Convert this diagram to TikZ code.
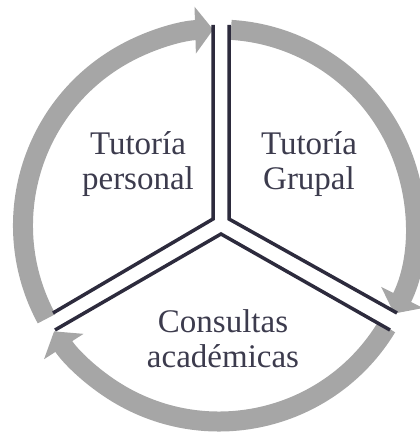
\documentclass[tikz,border=0pt]{standalone}
\usepackage{fontspec}
\setmainfont{Liberation Serif}
\usepackage{tikz}
\usetikzlibrary{arrows.meta}
\definecolor{ringgray}{HTML}{A6A6A6}
\definecolor{wallnavy}{HTML}{2D2B3D}
\definecolor{textnavy}{HTML}{3C3B4D}

\begin{document}
\begin{tikzpicture}[x=1pt, y=1pt,
	ring/.style={color=ringgray, line width=20pt, -{Triangle[width=46pt,length=18pt]}},
	wall/.style={color=wallnavy, line width=3.5pt, line join=miter},
	lbl/.style={text=textnavy, align=center, font=\fontsize{33}{35}\selectfont}]
	\useasboundingbox (0,0) rectangle (420,434);
	\coordinate (C) at (219,208.5);
	% circular arrows
	\draw[ring] ([shift={(208.4:196)}]C) arc (208.4:91.7:196);
	\draw[ring] ([shift={(86.5:196)}]C) arc (86.5:-26.7:196);
	\draw[ring] ([shift={(-31.2:196)}]C) arc (-31.2:-147.3:196);
	% dividing walls
	\coordinate (LTop) at (213,409);
	\coordinate (LMid) at (213,215);
	\coordinate (LEnd) at (53,121);
	\coordinate (RTop) at (229,409);
	\coordinate (RMid) at (229,215);
	\coordinate (REnd) at (397,121);
	\coordinate (BLeft) at (55,104);
	\coordinate (BMid) at (221,200);
	\coordinate (BRight) at (390,104);
	\draw[wall] (LTop) -- (LMid) -- (LEnd);
	\draw[wall] (RTop) -- (RMid) -- (REnd);
	\draw[wall] (BLeft) -- (BMid) -- (BRight);
	% labels
	\node[lbl] (personal) at (138,270) {Tutoría\\personal};
	\node[lbl] (grupal) at (309,270) {Tutoría\\Grupal};
	\node[lbl] (consultas) at (223,95) {Consultas\\académicas};
\end{tikzpicture}
\end{document}
